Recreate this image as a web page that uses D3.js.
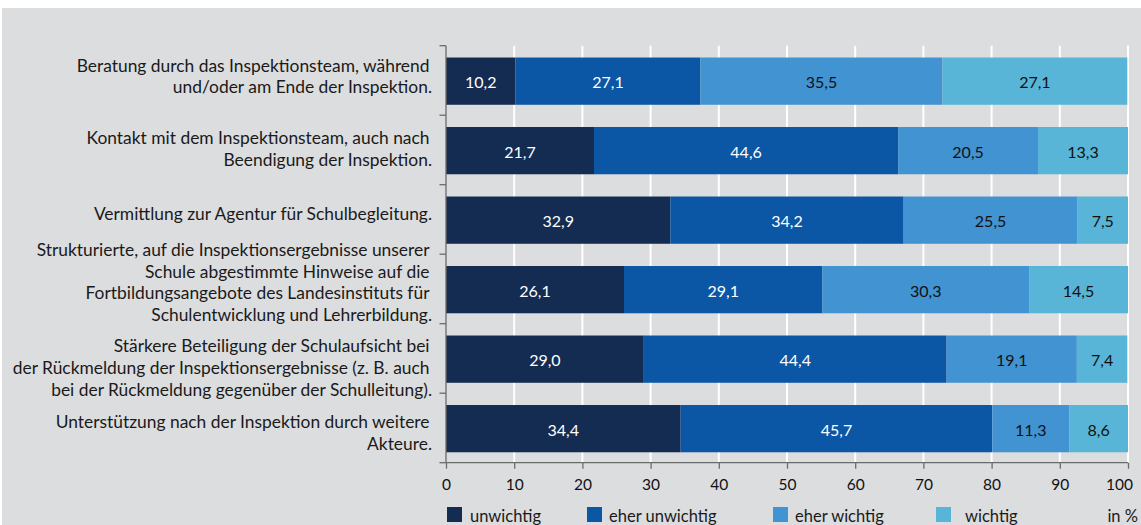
<!DOCTYPE html>
<html><head><meta charset="utf-8">
<script src="https://cdn.jsdelivr.net/npm/d3@7"></script>
<style>html,body{margin:0;padding:0;background:#fff;}svg{display:block;}</style>
</head><body>
<script>
const categories = [
  ["Beratung durch das Inspektionsteam, während","und/oder am Ende der Inspektion."],
  ["Kontakt mit dem Inspektionsteam, auch nach","Beendigung der Inspektion."],
  ["Vermittlung zur Agentur für Schulbegleitung."],
  ["Strukturierte, auf die Inspektionsergebnisse unserer","Schule abgestimmte Hinweise auf die","Fortbildungsangebote des Landesinstituts für","Schulentwicklung und Lehrerbildung."],
  ["Stärkere Beteiligung der Schulaufsicht bei","der Rückmeldung der Inspektionsergebnisse (z. B. auch","bei der Rückmeldung gegenüber der Schulleitung)."],
  ["Unterstützung nach der Inspektion durch weitere","Akteure."]
];
const seriesNames = ["unwichtig","eher unwichtig","eher wichtig","wichtig"];
const unwichtig     = [10.2, 21.7, 32.9, 26.1, 29.0, 34.4];
const eherUnwichtig = [27.1, 44.6, 34.2, 29.1, 44.4, 45.7];
const eherWichtig   = [35.5, 20.5, 25.5, 30.3, 19.1, 11.3];
const wichtig       = [27.1, 13.3, 7.5, 14.5, 7.4, 8.6];
const xTicks = [0,10,20,30,40,50,60,70,80,90,100];
const unitLabel = "in %";

// layout / style
const labelShift = [-4, -1, -6, -6.5, 9.5, 5];
const colors = ["#142c52","#0c57a5","#4193d1","#58b5d7"];
const textColors = ["#ffffff","#ffffff","#111111","#111111"];
const font = "Lato, 'Open Sans', sans-serif";

const W = 1141, H = 525;
const svg = d3.select("body").append("svg").attr("width", W).attr("height", H);
svg.append("rect").attr("x",2).attr("y",8).attr("width",W-2).attr("height",H-8).attr("fill","#dcdddf");

const x = d3.scaleLinear().domain([0,100]).range([446,1128]);
const y = d3.scaleBand().domain(d3.range(categories.length)).range([45.7,462.7]).padding(0);
const step = y.step();
const barOff = step*0.17, barH = step*0.68;

// gridlines
svg.append("g").selectAll("line").data(xTicks.filter(d=>d>0)).join("line")
  .attr("x1",d=>x(d)).attr("x2",d=>x(d)).attr("y1",45.7).attr("y2",462.7)
  .attr("stroke","#ffffff").attr("stroke-width",2);

const series = [unwichtig, eherUnwichtig, eherWichtig, wichtig];
const rows = categories.map((c,i)=>{ let acc=0; return series.map((s,k)=>{ const v=s[i]; const r={i,k,x0:acc,x1:acc+v,v}; acc+=v; return r;}); }).flat();

svg.append("g").selectAll("rect").data(rows).join("rect")
  .attr("x",d=>x(d.x0)).attr("width",d=>x(Math.min(100,d.x1))-x(d.x0))
  .attr("y",d=>y(d.i)+barOff).attr("height",barH)
  .attr("fill",d=>colors[d.k]);

svg.append("g").selectAll("text").data(rows).join("text")
  .attr("x",d=>(x(d.x0)+x(Math.min(100,d.x1)))/2)
  .attr("y",d=>y(d.i)+step/2+2)
  .attr("dy","0.35em").attr("text-anchor","middle")
  .attr("font-family",font).attr("font-size",16)
  .attr("fill",d=>textColors[d.k])
  .text(d=>d.v.toFixed(1).replace(".",","));

// left axis
const axisColor = "#6b6b6b";
const gl = svg.append("g");
gl.append("line").attr("x1",446).attr("x2",446).attr("y1",45.7).attr("y2",462.7).attr("stroke",axisColor).attr("stroke-width",1.3);
gl.selectAll("line.t").data(d3.range(categories.length+1)).join("line").attr("class","t")
  .attr("x1",439.5).attr("x2",446).attr("y1",d=>45.7+d*step).attr("y2",d=>45.7+d*step)
  .attr("stroke",axisColor).attr("stroke-width",1.3);

// bottom axis
const gx = svg.append("g").attr("transform","translate(0,462.7)")
  .call(d3.axisBottom(x).tickValues(xTicks).tickSize(6).tickPadding(10).tickFormat(d=>d));
gx.select(".domain").attr("stroke",axisColor).attr("stroke-width",1.3).attr("d","M446,0H1128");
gx.selectAll(".tick line").attr("stroke",axisColor).attr("stroke-width",1.3);
gx.selectAll(".tick text").attr("font-family",font).attr("font-size",15.5).attr("fill","#111")
  .attr("dx",d=>d===100?-9:0);

// category labels
const lineH = 21.8;
categories.forEach((lines,i)=>{
  const cy = y(i)+step/2+labelShift[i];
  const t = svg.append("text").attr("text-anchor","end").attr("font-family",font)
    .attr("font-size",17.4).attr("fill","#1a1a1a");
  lines.forEach((ln,j)=>{
    t.append("tspan").attr("x", j===lines.length-1 ? 432 : 429.5)
      .attr("y",cy+(j-(lines.length-1)/2)*lineH).attr("dy","0.35em").text(ln);
  });
});

// legend
const legX = [447,587,773,936];
const legTX = [470,609,795,965];
const lg = svg.append("g");
seriesNames.forEach((n,k)=>{
  lg.append("rect").attr("x",legX[k]).attr("y",507).attr("width",15).attr("height",15).attr("fill",colors[k]);
  lg.append("text").attr("x",legTX[k]).attr("y",516).attr("dy","0.35em").attr("font-family",font)
    .attr("font-size",16.5).attr("fill","#1a1a1a").text(n);
});
lg.append("text").attr("x",1138).attr("y",516).attr("dy","0.35em").attr("text-anchor","end")
  .attr("font-family",font).attr("font-size",16.5).attr("fill","#1a1a1a").text(unitLabel);
</script>
</body></html>
